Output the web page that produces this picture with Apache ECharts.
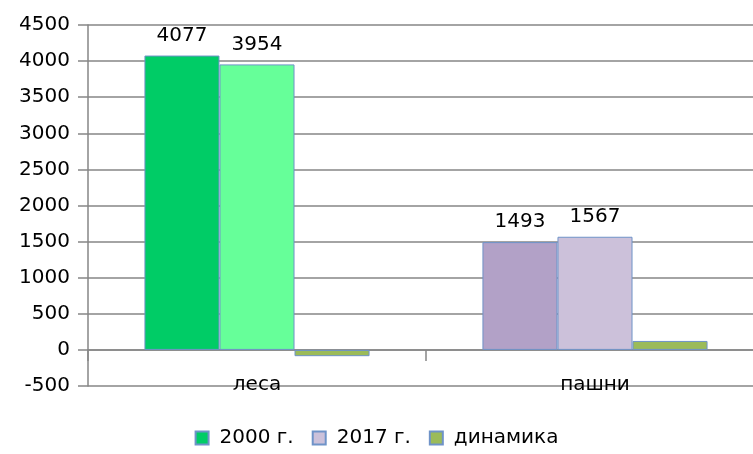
<!DOCTYPE html>
<html>
<head>
<meta charset="utf-8">
<script src="https://cdn.jsdelivr.net/npm/echarts@6/dist/echarts.min.js"></script>
<style>
  html, body { margin: 0; padding: 0; background: #fff; }
  #chart { width: 753px; height: 454px; }
</style>
</head>
<body>
<div id="chart"></div>
<script>
// данные
const categories = ['леса', 'пашни'];
const seriesNames = ['2000 г.', '2017 г.', 'динамика'];
const values2000 = [4077, 1493];
const values2017 = [3954, 1567];
const valuesDyn = [-87, 124];
// цвета по категориям
const colors2000 = ['#00cc66', '#b2a1c7'];
const colors2017 = ['#66ff99', '#ccc1da'];
const legendColors = ['#00cc66', '#ccc1da', '#9bbb59'];

const FONT = '"DejaVu Sans", sans-serif';
const border = { borderColor: '#6f93c8', borderWidth: 1 };

const myChart = echarts.init(document.getElementById('chart'));

const option = {
    animation: false,
    grid: { left: 88, top: 25, width: 676, height: 361, outerBoundsMode: 'none' },
    legend: {
        bottom: 1,
        left: 'center',
        icon: 'rect',
        itemWidth: 13,
        itemHeight: 13,
        itemGap: 18,
        textStyle: { fontFamily: FONT, fontSize: 20, color: '#000', padding: [0, 0, 0, 6] },
        data: seriesNames
    },
    xAxis: {
        type: 'category',
        data: categories,
        axisLine: { onZero: true, lineStyle: { color: '#868686', width: 1.5 } },
        axisTick: { show: true, length: 11, lineStyle: { color: '#868686', width: 1.5 } },
        axisLabel: { margin: -11, fontFamily: FONT, fontSize: 20, color: '#000' }
    },
    yAxis: {
        type: 'value',
        min: -500,
        max: 4500,
        interval: 500,
        axisLine: { show: true, lineStyle: { color: '#868686', width: 1.5 } },
        axisTick: { show: true, length: 10, lineStyle: { color: '#868686', width: 1.5 } },
        splitLine: { lineStyle: { color: '#868686', width: 1.5 } },
        axisLabel: { margin: 18, fontFamily: FONT, fontSize: 20, color: '#000', formatter: v => String(v) }
    },
    series: [
        {
            name: seriesNames[0],
            type: 'bar',
            barGap: 0,
            barCategoryGap: '33.4%',
            itemStyle: Object.assign({ color: legendColors[0] }, border),
            label: { show: true, position: 'top', distance: 10, fontFamily: FONT, fontSize: 20, color: '#000' },
            data: values2000.map((v, i) => ({ value: v, itemStyle: { color: colors2000[i] } }))
        },
        {
            name: seriesNames[1],
            type: 'bar',
            itemStyle: Object.assign({ color: legendColors[1] }, border),
            label: { show: true, position: 'top', distance: 10, fontFamily: FONT, fontSize: 20, color: '#000' },
            data: values2017.map((v, i) => ({ value: v, itemStyle: { color: colors2017[i] } }))
        },
        {
            name: seriesNames[2],
            type: 'bar',
            itemStyle: Object.assign({ color: legendColors[2] }, border),
            data: valuesDyn
        }
    ]
};
option && myChart.setOption(option);
</script>
</body>
</html>
